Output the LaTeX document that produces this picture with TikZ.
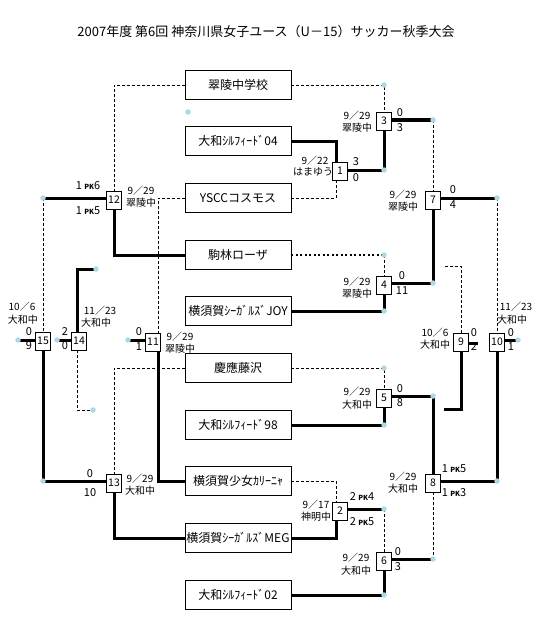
\documentclass[tikz,border=0pt]{standalone}
\usepackage{fontspec}
\setmainfont{Noto Sans CJK JP}
\usetikzlibrary{backgrounds}
\definecolor{dotc}{RGB}{173,216,230}
\newcommand\pkf{\fontsize{7}{7}\selectfont\bfseries}
\begin{document}
\begin{tikzpicture}[x=1pt,y=-1pt,
  team/.style={draw,line width=0.8pt,fill=white,minimum width=106pt,minimum height=29pt,inner sep=0pt,font=\fontsize{12}{14}\selectfont},
  match/.style={draw,line width=0.8pt,fill=white,minimum width=15pt,minimum height=18pt,inner sep=0pt,font=\fontsize{10.5}{12}\selectfont},
  jn/.style={circle,fill=dotc,minimum size=5.5pt,inner sep=0pt},
  win/.style={line width=3pt},
  lose/.style={line width=0.8pt,dash pattern=on 3pt off 2pt},
  dotline/.style={line width=2pt,dash pattern=on 2pt off 2.5pt},
  sc/.style={font=\fontsize{11}{12}\selectfont,inner sep=0pt},
  lb/.style={font=\fontsize{10}{11}\selectfont,inner sep=0pt},
]
\useasboundingbox (0,0) rectangle (540,623);
\node[font=\fontsize{13}{15}\selectfont,inner sep=0pt] (title) at (266,32) {2007年度 第6回 神奈川県女子ユース（U－15）サッカー秋季大会};

% teams
\node[team] (T1) at (238,85) {翠陵中学校};
\node[team] (T2) at (238,141) {大和ｼﾙﾌｨｰﾄﾞ04};
\node[team] (T3) at (238,198) {YSCCコスモス};
\node[team] (T4) at (238,255) {駒林ローザ};
\node[team] (T5) at (238,311) {横須賀ｼｰｶﾞﾙｽﾞJOY};
\node[team] (T6) at (238,368) {慶應藤沢};
\node[team] (T7) at (238,425) {大和ｼﾙﾌｨｰﾄﾞ98};
\node[team] (T8) at (238,481) {横須賀少女ｶﾘｰﾆｬ};
\node[team] (T9) at (238,538) {横須賀ｼｰｶﾞﾙｽﾞMEG};
\node[team] (T10) at (238,595) {大和ｼﾙﾌｨｰﾄﾞ02};

% matches
\node[match] (M1) at (340,171) {1};
\node[match] (M2) at (340,511) {2};
\node[match] (M3) at (384,121) {3};
\node[match] (M4) at (384,285) {4};
\node[match] (M5) at (384,398) {5};
\node[match] (M6) at (384,561) {6};
\node[match] (M7) at (433,200) {7};
\node[match] (M8) at (433,483) {8};
\node[match] (M9) at (461,342) {9};
\node[match] (M10) at (497,342) {10};
\node[match] (M11) at (153,342) {11};
\node[match] (M12) at (114,200) {12};
\node[match] (M13) at (114,483) {13};
\node[match] (M14) at (79,341) {14};
\node[match] (M15) at (43,341) {15};

% junction dots
\node[jn] (d3a) at (384,85) {};
\node[jn] (d1) at (384,170) {};
\node[jn] (d3) at (433,120) {};
\node[jn] (d7) at (497,198) {};
\node[jn] (d4a) at (384,255) {};
\node[jn] (d4b) at (384,311) {};
\node[jn] (d4) at (433,283) {};
\node[jn] (d5a) at (384,368) {};
\node[jn] (d5b) at (384,425) {};
\node[jn] (d5) at (433,396) {};
\node[jn] (d8) at (497,481) {};
\node[jn] (d2) at (384,509) {};
\node[jn] (d6b) at (384,595) {};
\node[jn] (d6) at (433,559) {};
\node[jn] (d10) at (518,340) {};
\node[jn] (dx) at (188,112) {};
\node[jn] (d12) at (43,198) {};
\node[jn] (d13) at (43,481) {};
\node[jn] (d15) at (18,340) {};
\node[jn] (d14) at (57,340) {};
\node[jn] (d14a) at (96,269) {};
\node[jn] (d14b) at (93,410) {};
\node[jn] (d11) at (128,340) {};
\coordinate (c9r) at (478,343);
\coordinate (c9t) at (444,266);
\coordinate (c9b) at (444,409);

\begin{pgfonlayer}{background}
% right half
\draw[win] (T2.east) -| ([xshift=-4pt]M1.north);
\draw[lose] (T3.east) -| ([xshift=-4pt]M1.south);
\draw[win] (M1.east |- d1.center) -- (d1.center) -- (M3.south);
\draw[lose] (T1.east) -- (d3a.center) -- (M3.north);
\draw[win] (M3.east |- d3.center) -- (d3.center);
\draw[lose] (d3.center) -- (M7.north);
\draw[win] (M7.east |- d7.center) -- (d7.center);
\draw[lose] (d7.center) -- (M10.north);
\draw[win] (M7.south) -- (d4.center);
\draw[win] (M4.east |- d4.center) -- (d4.center);
\draw[dotline] (T4.east) -- (d4a.center);
\draw[lose] (d4a.center) -- (M4.north);
\draw[win] (T5.east) -- (d4b.center) -- (M4.south);
\draw[lose] (T6.east) -- (d5a.center) -- (M5.north);
\draw[win] (T7.east) -- (d5b.center) -- (M5.south);
\draw[win] (M5.east |- d5.center) -- (d5.center) -- (M8.north);
\draw[win] (M8.east |- d8.center) -- (d8.center) -- (M10.south);
\draw[lose] (M8.south) -- (d6.center);
\draw[win] (M6.east |- d6.center) -- (d6.center);
\draw[lose] (d2.center) -- (M6.north);
\draw[win] (M2.east |- d2.center) -- (d2.center);
\draw[win] (T10.east) -- (d6b.center) -- (M6.south);
\draw[lose] (T8.east) -| ([xshift=-4pt]M2.north);
\draw[win] (T9.east) -| ([xshift=-4pt]M2.south);
\draw[win] (M10.east |- d10.center) -- (d10.center);
\draw[lose] (M9.north) |- (c9t);
\draw[win] (M9.south) |- (c9b);
\draw[win] (M9.east |- c9r) -- (c9r);
% left half
\draw[lose] (T1.west) -| (M12.north);
\draw[win] (T4.west) -| (M12.south);
\draw[win] (M12.west |- d12.center) -- (d12.center);
\draw[lose] (d12.center) -- (M15.north);
\draw[win] (M15.south) -- (d13.center);
\draw[win] (M13.west |- d13.center) -- (d13.center);
\draw[lose] (T6.west) -| (M13.north);
\draw[win] (T9.west) -| (M13.south);
\draw[lose] (T3.west) -| ([xshift=5pt]M11.north);
\draw[win] (T8.west) -| ([xshift=5pt]M11.south);
\draw[win] (M11.west |- d11.center) -- (d11.center);
\draw[win] (M15.west |- d15.center) -- (d15.center);
\draw[win] (M14.west |- d14.center) -- (d14.center);
\draw[win] ([xshift=-2pt]M14.north) |- (d14a.center);
\draw[lose] ([xshift=-2pt]M14.south) |- (d14b.center);
\end{pgfonlayer}

% scores and labels
\node[sc] (s1a) at (356,162) {3};
\node[sc] (s1b) at (356,178) {0};
\node[lb] (l1a) at (315,161) {9／22};
\node[lb] (l1b) at (313,172) {はまゆう};
\node[sc] (s2a) at (362,497) {2 {\pkf PK}4};
\node[sc] (s2b) at (362,522) {2 {\pkf PK}5};
\node[lb] (l2a) at (316,505) {9／17};
\node[lb] (l2b) at (316,517) {神明中};
\node[sc] (s3a) at (400,113) {0};
\node[sc] (s3b) at (400,128) {3};
\node[lb] (l3a) at (357,116) {9／29};
\node[lb] (l3b) at (357,128) {翠陵中};
\node[sc] (s4a) at (402,276) {0};
\node[sc] (s4b) at (402,291) {11};
\node[lb] (l4a) at (357,282) {9／29};
\node[lb] (l4b) at (357,294) {翠陵中};
\node[sc] (s5a) at (400,389) {0};
\node[sc] (s5b) at (400,403) {8};
\node[lb] (l5a) at (357,392) {9／29};
\node[lb] (l5b) at (357,405) {大和中};
\node[sc] (s6a) at (398,552) {0};
\node[sc] (s6b) at (398,567) {3};
\node[lb] (l6a) at (356,558) {9／29};
\node[lb] (l6b) at (356,571) {大和中};
\node[sc] (s7a) at (453,190) {0};
\node[sc] (s7b) at (453,205) {4};
\node[lb] (l7a) at (403,195) {9／29};
\node[lb] (l7b) at (403,207) {翠陵中};
\node[sc] (s8a) at (454,469) {1 {\pkf PK}5};
\node[sc] (s8b) at (454,493) {1 {\pkf PK}3};
\node[lb] (l8a) at (403,477) {9／29};
\node[lb] (l8b) at (403,489) {大和中};
\node[sc] (s9a) at (474,333) {0};
\node[sc] (s9b) at (474,347) {2};
\node[lb] (l9a) at (435,333) {10／6};
\node[lb] (l9b) at (435,345) {大和中};
\node[sc] (s10a) at (511,333) {0};
\node[sc] (s10b) at (511,347) {1};
\node[lb] (l10a) at (516,307) {11／23};
\node[lb] (l10b) at (512,320) {大和中};
\node[sc] (s11a) at (139,332) {0};
\node[sc] (s11b) at (139,347) {1};
\node[lb] (l11a) at (180,337) {9／29};
\node[lb] (l11b) at (180,349) {翠陵中};
\node[sc] (s12a) at (88,186) {1 {\pkf PK}6};
\node[sc] (s12b) at (88,211) {1 {\pkf PK}5};
\node[lb] (l12a) at (141,191) {9／29};
\node[lb] (l12b) at (141,203) {翠陵中};
\node[sc] (s13a) at (90,474) {0};
\node[sc] (s13b) at (90,493) {10};
\node[lb] (l13a) at (140,479) {9／29};
\node[lb] (l13b) at (140,491) {大和中};
\node[sc] (s14a) at (65,332) {2};
\node[sc] (s14b) at (65,346) {0};
\node[lb] (l14a) at (100,311) {11／23};
\node[lb] (l14b) at (96,323) {大和中};
\node[sc] (s15a) at (29,332) {0};
\node[sc] (s15b) at (29,346) {9};
\node[lb] (l15a) at (22,307) {10／6};
\node[lb] (l15b) at (23,320) {大和中};
\end{tikzpicture}
\end{document}
